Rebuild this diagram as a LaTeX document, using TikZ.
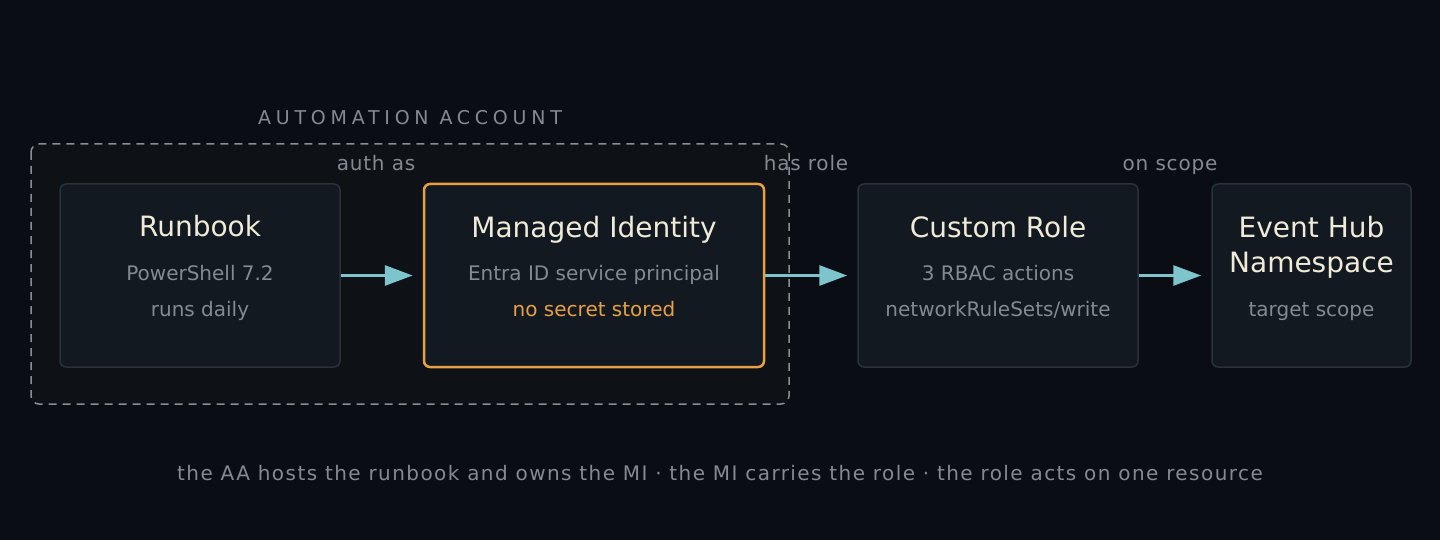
\documentclass[tikz,border=0pt]{standalone}
\usepackage{fontspec}
\setmainfont{DejaVu Sans}
\usetikzlibrary{arrows.meta}
\definecolor{bg}{HTML}{0B0D14}
\definecolor{cont}{HTML}{0E1115}
\definecolor{boxfill}{HTML}{131920}
\definecolor{boxline}{HTML}{2A313B}
\definecolor{dashc}{HTML}{8A8D92}
\definecolor{orange}{HTML}{E8A043}
\definecolor{cyan}{HTML}{7EC4CC}
\definecolor{graytext}{HTML}{858990}
\definecolor{titletext}{HTML}{F0EAD8}
\tikzset{
  box/.style={draw=boxline, line width=1.5pt, fill=boxfill, rounded corners=6pt, inner sep=0pt},
  hibox/.style={draw=orange, line width=2.5pt, fill=boxfill, rounded corners=6pt, inner sep=0pt},
  ttl/.style={anchor=base, inner sep=0pt, text=titletext, font=\fontsize{28}{34}\selectfont},
  sub/.style={anchor=base, inner sep=0pt, text=graytext, font=\fontsize{20}{24}\selectfont},
  elabel/.style={anchor=base, inner sep=0pt, text=graytext, font=\fontsize{20}{24}\selectfont\addfontfeature{LetterSpace=4}},
  footer/.style={anchor=base, inner sep=0pt, text=graytext, font=\fontsize{20}{24}\selectfont\addfontfeature{LetterSpace=7.2}},
  arr/.style={draw=cyan, line width=3pt, -{Triangle[length=28pt,width=20pt]}, shorten >=10pt}
}
\begin{document}
\begin{tikzpicture}[x=1pt,y=-1pt]
\fill[bg] (0,0) rectangle (1440,540);
\useasboundingbox (0,0) rectangle (1440,540);
% container
\draw[draw=dashc, fill=cont, line width=1.5pt, dash pattern=on 8pt off 6pt, rounded corners=8pt] (31,144) rectangle (789,404);
\node[anchor=base west, inner sep=0pt, text=graytext, font=\fontsize{19}{24}\selectfont\addfontfeature{LetterSpace=25}] (aatitle) at (258,125) {AUTOMATION ACCOUNT};
% boxes
\node[box, minimum width=280pt, minimum height=183pt] (rb) at (200,275.5) {};
\node[hibox, minimum width=340pt, minimum height=183pt] (mi) at (594,275.5) {};
\node[box, minimum width=280pt, minimum height=183pt] (cr) at (998,275.5) {};
\node[box, minimum width=199pt, minimum height=183pt] (eh) at (1311.5,275.5) {};
% texts
\node[ttl] (rbt) at (200,236.5) {Runbook};
\node[sub] (rbs1) at (200,280) {PowerShell 7.2};
\node[sub] (rbs2) at (200,316) {runs daily};
\node[ttl] (mit) at (594,237) {Managed Identity};
\node[sub] (mis1) at (594,280) {Entra ID service principal};
\node[sub, text=orange] (mis2) at (594,316) {no secret stored};
\node[ttl] (crt) at (998,237) {Custom Role};
\node[sub] (crs1) at (998,280) {3 RBAC actions};
\node[sub] (crs2) at (998,316) {networkRuleSets/write};
\node[ttl] (eht1) at (1311.5,237) {Event Hub};
\node[ttl] (eht2) at (1311.5,272) {Namespace};
\node[sub] (ehs) at (1311.5,316) {target scope};
% arrows
\draw[arr] (rb.east) -- (mi.west);
\draw[arr] (mi.east) -- (cr.west);
\draw[arr] (cr.east) -- (eh.west);
% edge labels
\node[elabel] (l1) at (376,171) {auth as};
\node[elabel] (l2) at (806,171) {has role};
\node[elabel] (l3) at (1170,171) {on scope};
% footer
\node[footer] (foot) at (720,480) {the AA hosts the runbook and owns the MI · the MI carries the role · the role acts on one resource};
\end{tikzpicture}
\end{document}
